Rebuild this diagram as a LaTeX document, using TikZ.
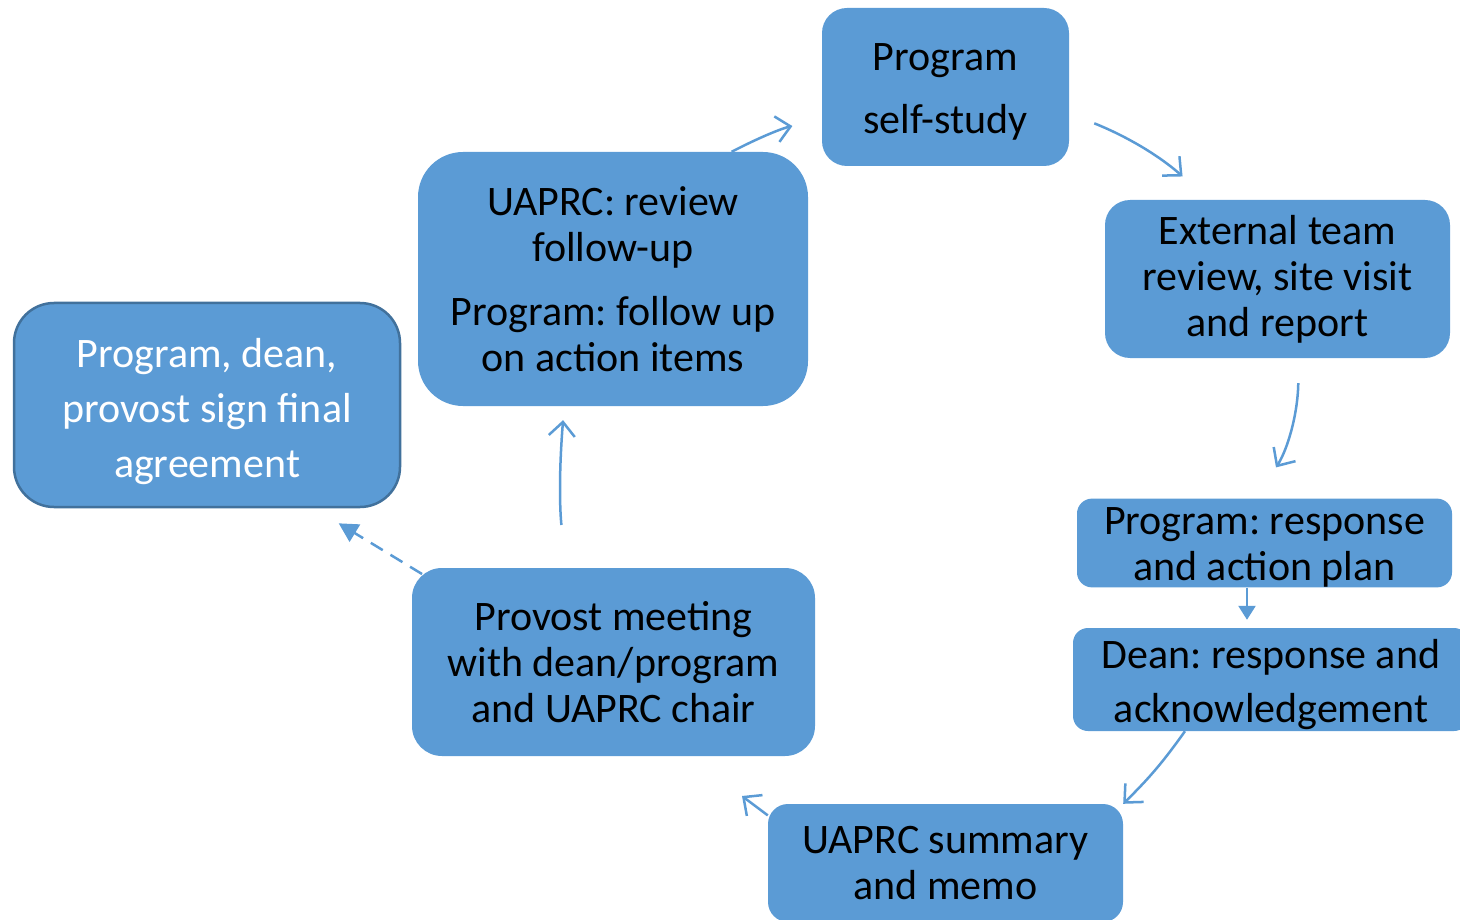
\documentclass[tikz,border=0pt]{standalone}
\usepackage{fontspec}
\setmainfont{Carlito}
\usetikzlibrary{arrows.meta}
\definecolor{boxblue}{HTML}{5B9BD5}
\definecolor{edgeblue}{HTML}{41719C}
\frenchspacing

\begin{document}
\begin{tikzpicture}[x=1pt,y=-1pt,
    stage/.style={rectangle, fill=boxblue, align=center, inner sep=0pt,
      font=\fontsize{42}{46}\selectfont},
    flow/.style={draw=boxblue, line width=2.5pt,
      -{Straight Barb[length=14pt,width=26pt]}},
    plainflow/.style={draw=boxblue, line width=2.5pt,
      -{Triangle[length=14pt,width=17pt]}}]
  \clip (0,0) rectangle (1460,920);
  \useasboundingbox (0,0) rectangle (1460,920);

  % the review cycle
  \node[stage, minimum width=247, minimum height=158, rounded corners=25] (self) at (945.5,87) {\rule{0pt}{36pt}Program\\[17pt]self-study};
  \node[stage, minimum width=345, minimum height=158, rounded corners=25] (ext) at (1277.5,279) {External team\\review, site visit\\and report};
  \node[stage, minimum width=375, minimum height=88, rounded corners=15] (resp) at (1264.5,543) {\rule{0pt}{36pt}Program: response\\and action plan};
  \node[stage, minimum width=396, minimum height=103, rounded corners=15] (dean) at (1271,679.5) {\rule{0pt}{40pt}Dean: response and\\[8pt]acknowledgement};
  \node[stage, minimum width=355, minimum height=118, rounded corners=20] (summ) at (945.5,863) {UAPRC summary\\and memo};
  \node[stage, minimum width=403, minimum height=188, rounded corners=30] (prov) at (613.5,662) {Provost meeting\\with dean/program\\and UAPRC chair};
  \node[stage, minimum width=390, minimum height=254, rounded corners=45] (rev) at (613,279) {UAPRC: review\\follow-up\\[18pt]Program: follow up\\on action items};
  \node[stage, draw=edgeblue, line width=2.5pt, text=white, minimum width=386, minimum height=204, rounded corners=40] (sign) at (207,405) {\rule{0pt}{42pt}Program, dean,\\[9pt]provost sign final\\[9pt]agreement};

  \coordinate (toprov) at (742,796);

  \draw[flow, shorten >=30pt] (rev.47) to[bend left=8] (self.195);
  \draw[flow, shorten <=27pt, shorten >=35pt] (self.-12) to[bend left=10] (ext.131);
  \draw[flow, shorten <=25pt, shorten >=37pt] (ext.-75) to[bend left=16] (resp.101);
  \draw[plainflow, shorten >=8pt] ([xshift=-17.5]resp.south) -- ([xshift=-17.5]resp.south |- dean.north);
  \draw[flow] (dean.211) to[bend left=5] (summ.north east);
  \draw[flow] (summ.165) -- (toprov);
  \draw[plainflow, -{Triangle[length=19pt,width=20pt]}, dash pattern=on 14pt off 9pt, shorten <=-12pt, shorten >=29pt] (prov.north west) -- (sign.-44);
  \draw[flow, shorten <=43pt, shorten >=14pt] (prov.117) to[bend left=5] (rev.-111.5);
\end{tikzpicture}
\end{document}
